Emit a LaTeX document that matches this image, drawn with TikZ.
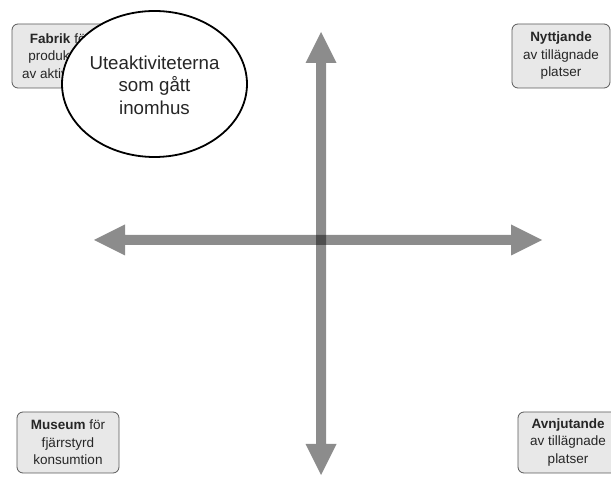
\documentclass[tikz,border=0pt]{standalone}
\usepackage{fontspec}
\setmainfont{Liberation Sans}
\begin{document}
\begin{tikzpicture}[x=1pt,y=-1pt,
  qbox/.style={draw=black!65, fill=black!9, rounded corners=6pt, line width=0.8pt, inner sep=0pt},
  qtext/.style={align=center, font=\fontsize{13.5}{17.5}\selectfont, text=black!85},
  axis/.style={fill=black, fill opacity=0.45, draw=none}]
\useasboundingbox (0,0) rectangle (611,478);
\clip (0,0) rectangle (611,478);
% arrows
\coordinate (hl) at (94,240);
\coordinate (hr) at (542,240);
\coordinate (vt) at (321,32);
\coordinate (vb) at (321,475);
\path[axis] (hl) -- ++(31,-15.5) -- ++(0,10.5) -- ++(386,0) -- ++(0,-10.5) -- (hr)
  -- ++(-31,15.5) -- ++(0,-10.5) -- ++(-386,0) -- ++(0,10.5) -- cycle;
\path[axis] (vt) -- ++(15.5,31) -- ++(-10.5,0) -- ++(0,381) -- ++(10.5,0) -- (vb)
  -- ++(-15.5,-31) -- ++(10.5,0) -- ++(0,-381) -- ++(-10.5,0) -- cycle;
% boxes
\node[qbox, minimum width=96pt, minimum height=64pt] (fab) at (60,56) {};
\node[qtext] (fabt) at (fab) {\textbf{Fabrik} för\\produktion\\av aktiviteter};
\node[qbox, minimum width=98pt, minimum height=64pt] (nyt) at (561,56) {};
\node[qtext] (nytt) at (nyt) {\textbf{Nyttjande}\\av tillägnade\\platser};
\node[qbox, minimum width=102pt, minimum height=61pt] (mus) at (68,442.5) {};
\node[qtext] (must) at (mus) {\textbf{Museum} för\\fjärrstyrd\\konsumtion};
\node[qbox, minimum width=100pt, minimum height=61pt] (avn) at (568,442.5) {};
\node[qtext] (avnt) at (avn) {\textbf{Avnjutande}\\av tillägnade\\platser};
% ellipse
\draw[fill=white, line width=1.8pt] (154.5,84) ellipse [x radius=92.5, y radius=73];
\node[align=center, font=\fontsize{18.7}{22.5}\selectfont, text=black!85] (ute) at (154.5,85) {Uteaktiviteterna\\som gått\\inomhus};
\end{tikzpicture}
\end{document}
